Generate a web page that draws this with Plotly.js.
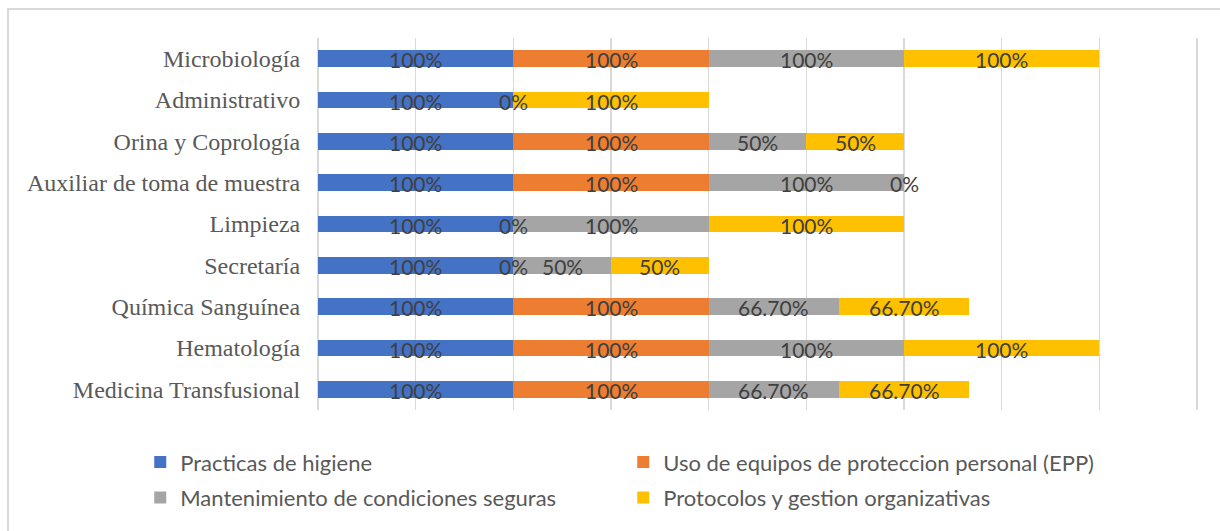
<!DOCTYPE html>
<html>
<head>
<meta charset="utf-8">
<script src="https://cdn.plot.ly/plotly-3.0.1.min.js"></script>
<style>html,body{margin:0;padding:0;background:#fff;}#chart{width:1220px;height:531px;}</style>
</head>
<body>
<div id="chart"></div>
<script>
var categories = ["Microbiología","Administrativo","Orina y Coprología","Auxiliar de toma de muestra","Limpieza","Secretaría","Química Sanguínea","Hematología","Medicina Transfusional"];
var seriesNames = ["Practicas de higiene","Uso de equipos de proteccion personal (EPP)","Mantenimiento de condiciones seguras","Protocolos y gestion organizativas"];
var higiene       = [100,100,100,100,100,100,100,100,100];
var epp           = [100,0,100,100,0,0,100,100,100];
var mantenimiento = [100,null,50,100,100,50,66.7,100,66.7];
var protocolos    = [100,100,50,0,100,50,66.7,100,66.7];
var colors = ["#4472C4","#ED7D31","#A5A5A5","#FFC000"];

var series = [higiene, epp, mantenimiento, protocolos];
function fmt(v){ return (Number.isInteger(v) ? v : v.toFixed(2)) + "%"; }

var traces = [];
var annotations = [];
var base = categories.map(function(){return 0;});
series.forEach(function(vals, s){
  traces.push({
    type: "bar", orientation: "h", name: seriesNames[s],
    y: categories, x: vals.map(function(v){return v===null?null:v/100;}),
    marker: {color: colors[s]}, hoverinfo: "skip",
    legend: s < 2 ? "legend" : "legend2"
  });
  vals.forEach(function(v, i){
    if (v === null) return;
    annotations.push({
      xref: "x", yref: "y", x: base[i] + v/200, y: categories[i], text: fmt(v),
      showarrow: false, xanchor: "center", yanchor: "middle", yshift: -1,
      font: {family: "Lato, sans-serif", size: 21, color: "#404040"}
    });
    base[i] += v/100;
  });
});

var legFont = {family: "Lato, sans-serif", size: 22, color: "#595959"};
var layout = {
  width: 1220, height: 531,
  margin: {l: 318, r: 19, t: 38, b: 121},
  paper_bgcolor: "#fff", plot_bgcolor: "#fff",
  barmode: "stack", bargap: 0.59,
  showlegend: true,
  xaxis: {range: [0, 4.52], dtick: 0.5, tick0: 0, showticklabels: false,
          showgrid: true, gridcolor: "#d9d9d9", gridwidth: 1.5,
          zeroline: true, zerolinecolor: "#d9d9d9", zerolinewidth: 1.5, fixedrange: true},
  yaxis: {type: "category", autorange: "reversed", showgrid: false, zeroline: false,
          ticks: "outside", ticklen: 12, tickcolor: "rgba(0,0,0,0)",
          tickfont: {family: "Liberation Serif, Times New Roman, serif", size: 24, color: "#595959"}},
  legend: {orientation: "h", traceorder: "normal", x: -0.2013, xanchor: "left", y: -0.084, yanchor: "top",
           entrywidth: 438, entrywidthmode: "pixels", font: legFont},
  legend2: {orientation: "h", traceorder: "normal", x: -0.2013, xanchor: "left", y: -0.179, yanchor: "top",
           entrywidth: 438, entrywidthmode: "pixels", font: legFont},
  annotations: annotations,
  shapes: [{type: "rect", xref: "paper", yref: "paper",
            x0: (8-318)/883, x1: 1.2, y0: -0.5, y1: 1 + 29/372,
            line: {color: "#d9d9d9", width: 2}, fillcolor: "rgba(0,0,0,0)", layer: "below"}]
};
Plotly.newPlot("chart", traces, layout, {displayModeBar: false, staticPlot: true});
</script>
</body>
</html>
